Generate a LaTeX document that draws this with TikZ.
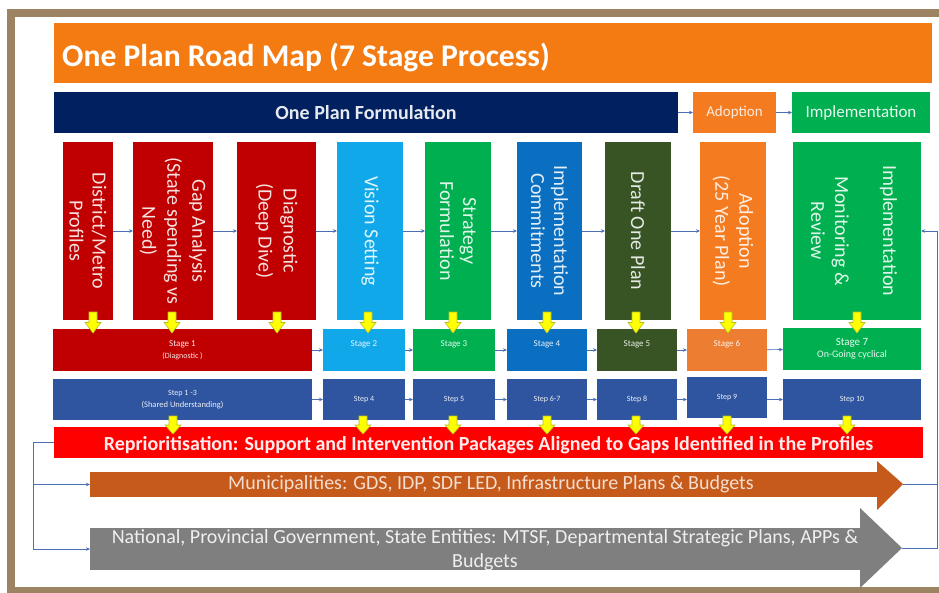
\documentclass[tikz,border=0pt]{standalone}
\usepackage{fontspec}
\setmainfont{Carlito}
\usetikzlibrary{arrows.meta}
\definecolor{frameC}{HTML}{9C8462}
\definecolor{titleC}{HTML}{F47B12}
\definecolor{navyC}{HTML}{002060}
\definecolor{orgC}{HTML}{F47B20}
\definecolor{grnC}{HTML}{00B050}
\definecolor{redC}{HTML}{C00000}
\definecolor{ltbC}{HTML}{10A8E8}
\definecolor{bluC}{HTML}{0A6FC0}
\definecolor{oliveC}{HTML}{395424}
\definecolor{stagesixC}{HTML}{ED7D31}
\definecolor{stepC}{HTML}{2F55A0}
\definecolor{brightRedC}{HTML}{FF0000}
\definecolor{muniC}{HTML}{C65A1A}
\definecolor{grayC}{HTML}{7F7F7F}
\definecolor{connC}{HTML}{4A6FB5}
\definecolor{yelC}{HTML}{FFFF00}
\definecolor{yelEdge}{HTML}{B8C020}
% #1 = x centre, #2 = top y, #3 = length
\newcommand{\yelarrow}[3]{%
  \filldraw[fill=yelC, draw=yelEdge, line width=0.6pt]
    ({#1-4},#2) -- ({#1+4},#2) -- ({#1+4},{#2+#3/2}) -- ({#1+8},{#2+#3/2})
    -- (#1,{#2+#3}) -- ({#1-8},{#2+#3/2}) -- ({#1-4},{#2+#3/2}) -- cycle;}
\begin{document}
\begin{tikzpicture}[x=1pt,y=-1pt,
  blk/.style={inner sep=0pt, outer sep=0pt, text=white, align=center},
  vbox/.style={blk, minimum height=178pt},
  vtxt/.style={rotate=-90, inner sep=0pt, text=white, text opacity=0.88, align=center, font=\fontsize{20}{23}\selectfont},
  stagebox/.style={blk, minimum height=42pt, text opacity=0.9, font=\fontsize{9}{13}\selectfont},
  stepbox/.style={blk, fill=stepC, minimum height=41pt, text opacity=0.9, font=\fontsize{8}{13}\selectfont},
  conn/.style={draw=connC, line width=0.7pt, -{Stealth[length=4pt,width=3.5pt]}},
  plain/.style={draw=connC, line width=0.7pt}
]
\useasboundingbox (0,0) rectangle (939,592);
\fill[white] (0,0) rectangle (939,592);
\draw[frameC, line width=8pt] (960,13) -- (11,13) -- (11,591) -- (960,591);

% title
\node[blk, fill=titleC, minimum width=878pt, minimum height=60pt] (title) at (493,53) {};
\node[anchor=base west, inner sep=0pt, text=white, font=\fontsize{31.6}{35}\selectfont\bfseries] (titleTxt) at (62,66) {One Plan Road Map (7 Stage Process)};

% phase bar
\node[blk, fill=navyC, minimum width=624pt, minimum height=41pt, text opacity=0.9, font=\fontsize{20}{23}\selectfont\bfseries] (navy) at (366,112.5) {One Plan Formulation};
\node[blk, fill=orgC, minimum width=83pt, minimum height=41pt, text opacity=0.85, font=\fontsize{15}{18}\selectfont] (adopt) at (734.5,112.5) {Adoption};
\node[blk, fill=grnC, minimum width=138pt, minimum height=41pt, text opacity=0.9, font=\fontsize{17}{20}\selectfont] (impl) at (861,112.5) {Implementation};
\draw[conn] (navy) -- (adopt);
\draw[conn] (adopt) -- (impl);

% vertical boxes
\node[vbox, fill=redC, minimum width=50pt] (v1) at (88,231) {};
\node[vbox, fill=redC, minimum width=80pt] (v2) at (173,231) {};
\node[vbox, fill=redC, minimum width=79pt] (v3) at (276.5,231) {};
\node[vbox, fill=ltbC, minimum width=66pt] (v4) at (370,231) {};
\node[vbox, fill=grnC, minimum width=66pt] (v5) at (458,231) {};
\node[vbox, fill=bluC, minimum width=65pt] (v6) at (549.5,231) {};
\node[vbox, fill=oliveC, minimum width=66pt] (v7) at (638,231) {};
\node[vbox, fill=orgC, minimum width=66pt] (v8) at (733,231) {};
\node[vbox, fill=grnC, minimum width=128pt] (v9) at (857,231) {};
\node[vtxt] (t1) at (v1) {District/Metro\\Profiles};
\node[vtxt, font=\fontsize{20}{25}\selectfont] (t2) at (v2) {Gap Analysis\\(State spending vs\\Need)};
\node[vtxt, font=\fontsize{20}{25}\selectfont] (t3) at (v3) {Diagnostic\\(Deep Dive)};
\node[vtxt] (t4) at (v4) {Vision Setting};
\node[vtxt] (t5) at (v5) {Strategy\\Formulation};
\node[vtxt] (t6) at (v6) {Implementation\\Commitments};
\node[vtxt] (t7) at (v7) {Draft One Plan};
\node[vtxt, font=\fontsize{20}{24}\selectfont] (t8) at (v8) {Adoption\\(25 Year Plan)};
\node[vtxt, font=\fontsize{20}{24}\selectfont] (t9) at ([xshift=-3pt]v9.center) {Implementation\\[24pt]Monitoring \&\\Review};
\foreach \a/\b in {v1/v2,v2/v3,v3/v4,v4/v5,v5/v6,v6/v7,v7/v8} \draw[conn] (\a) -- (\b);

% stage row
\node[stagebox, fill=redC, minimum width=259pt] (s1) at (182.5,350) {Stage 1\\[-1pt]{\fontsize{8}{10}\selectfont(Diagnostic )}};
\node[stagebox, fill=ltbC, minimum width=82pt] (s2) at (364,350) {Stage 2\\~};
\node[stagebox, fill=grnC, minimum width=82pt] (s3) at (454,350) {Stage 3\\~};
\node[stagebox, fill=bluC, minimum width=80pt] (s4) at (547,350) {Stage 4\\~};
\node[stagebox, fill=oliveC, minimum width=80pt] (s5) at (637,350) {Stage 5\\~};
\node[stagebox, fill=stagesixC, minimum width=80pt] (s6) at (727,350) {Stage 6\\~};
\node[stagebox, fill=grnC, minimum width=138pt, font=\fontsize{11}{13}\selectfont] (s7) at (852,349) {Stage 7\\[-1pt]{\fontsize{10}{12}\selectfont On-Going cyclical}};
\foreach \a/\b in {s1/s2,s2/s3,s3/s4,s4/s5,s5/s6,s6/s7} \draw[conn] (\a) -- (\b);

% step row
\node[stepbox, minimum width=259pt] (p1) at (182.5,399.5) {Step 1 -3\\[-1pt]{\fontsize{8.5}{10}\selectfont(Shared Understanding)}};
\node[stepbox, minimum width=82pt] (p2) at (364,399.5) {Step 4};
\node[stepbox, minimum width=82pt] (p3) at (454,399.5) {Step 5};
\node[stepbox, minimum width=80pt] (p4) at (547,399.5) {Step 6-7};
\node[stepbox, minimum width=80pt] (p5) at (637,399.5) {Step 8};
\node[stepbox, minimum width=80pt] (p6) at (727,397.5) {Step 9};
\node[stepbox, minimum width=138pt] (p7) at (852,399.5) {Step 10};
\draw[conn] (p1) -- (p2);
\draw[conn] (p2) -- (p3);
\draw[conn] (p3) -- (p4);
\draw[conn] (p4) -- (p5);
\draw[conn] (p5) -- (p6.west |- p5.east);
\draw[conn] (p6.east |- p7.west) -- (p7);

% red bar
\node[blk, fill=brightRedC, minimum width=869pt, minimum height=31pt] (red) at (488.5,442.5) {};
\node[inner sep=0pt, text=white, text opacity=0.92, font=\fontsize{20}{23}\selectfont\bfseries] (redTxt) at (488.5,445) {Reprioritisation: Support and Intervention Packages Aligned to Gaps Identified in the Profiles};

% yellow arrows
\foreach \x in {93,172,277,368,453,547,636,728,857} {\yelarrow{\x}{312}{21}}
\foreach \x in {173,363,453,547,636,727,847} {\yelarrow{\x}{416}{18}}

% municipalities arrow
\node[blk, fill=muniC, minimum width=787pt, minimum height=25pt] (muni) at (483.5,484.5) {};
\fill[muniC] (877,461) -- (903,484) -- (877,510) -- cycle;
\coordinate (muniTip) at (903,484);
\node[inner sep=0pt, text=white, text opacity=0.8, font=\fontsize{20}{23}\selectfont] (muniTxt) at (491,484.5) {Municipalities: GDS, IDP, SDF LED, Infrastructure Plans \& Budgets};

% national arrow
\node[blk, fill=grayC, minimum width=770pt, minimum height=42pt] (natl) at (475,549) {};
\fill[grayC] (860,508) -- (902,548) -- (860,588) -- cycle;
\coordinate (natTip) at (902,548);
\node[inner sep=0pt, text=white, text opacity=0.88, align=center, font=\fontsize{20}{24}\selectfont] (natTxt) at (485,550) {National, Provincial Government, State Entities: MTSF, Departmental Strategic Plans, APPs \&\\Budgets};

% feedback connectors
\draw[conn] (red.west) -- ++(-21,0) |- (muni.west);
\draw[conn] (red.west) -- ++(-21,0) |- (natl.west);
\draw[plain] (muniTip) -- (937,484);
\draw[conn] (natTip) -- (937,548) |- (v9.east);
\end{tikzpicture}
\end{document}
